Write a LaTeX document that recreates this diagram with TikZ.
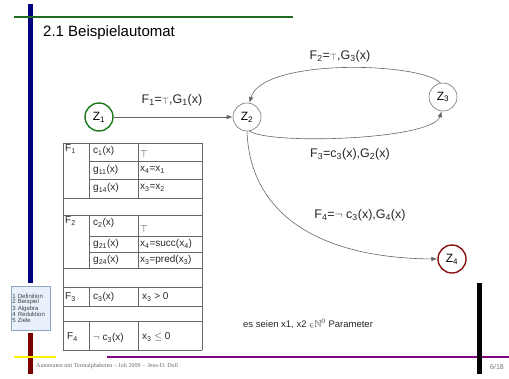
\documentclass[tikz,border=0pt]{standalone}
\usepackage{fontspec}
\setmainfont{Liberation Sans}
\newfontfamily\footserif{Liberation Serif}
\usepackage{amssymb}
\usetikzlibrary{arrows.meta, positioning}
\definecolor{barblue}{HTML}{000080}
\definecolor{bargreen}{HTML}{1F6B1F}
\definecolor{barred}{HTML}{7A0000}
\definecolor{barpurple}{HTML}{800080}
\definecolor{menufill}{HTML}{E8F1FB}
\definecolor{menuline}{HTML}{8FA6C0}
\definecolor{zgreen}{HTML}{1A7A1A}
\definecolor{zred}{HTML}{8B1010}
\newcommand{\su}[1]{\textsubscript{#1}}
\newcommand{\tru}{\raisebox{-1.5pt}{$\scriptstyle\top$}}
% table rules and cells
\newcommand{\thl}[3]{\draw[tab] (#1,#3) -- (#2,#3);}
\newcommand{\tvl}[3]{\draw[tab] (#1,#2) -- (#1,#3);}
\newcommand{\tcell}[4]{\node[cell] (#1) at (#2,#3) {#4};}

\begin{document}
\begin{tikzpicture}[x=1pt, y=-1pt,
  zstate/.style={circle, draw=black!55, line width=0.6pt, minimum size=28pt,
    inner sep=0pt, font=\fontsize{12}{12}\selectfont},
  edge/.style={draw=black!60, line width=0.6pt, -{Latex[length=6pt,width=4.5pt]}},
  elabel/.style={font=\fontsize{12.5}{12.5}\selectfont, text=black!85},
  tab/.style={draw=black!60, line width=0.6pt},
  cell/.style={anchor=west, inner sep=0pt, font=\fontsize{10}{10}\selectfont, text=black!85},
  plain/.style={anchor=west, inner sep=0pt},
  menu/.style={draw=menuline, fill=menufill, line width=0.5pt, minimum width=39pt,
    minimum height=44pt, text width=36pt, align=left, inner sep=1.5pt,
    font=\fontsize{6}{5.5}\selectfont, text=black!75}]
\useasboundingbox (0,0) rectangle (509,378);
% bars and rules
\fill[barblue] (28,4) rectangle (33,283);
\draw[bargreen, line width=2pt] (14,17) -- (293,17);
\fill[barred] (28,333) rectangle (33,374);
\draw[yellow, line width=2pt] (14,357) -- (56,357);
\draw[barpurple, line width=2pt] (107,357) -- (509,357);
\fill[black] (477,283) rectangle (482,374);
% title
\node[anchor=base west, inner sep=0pt, font=\fontsize{15}{15}\selectfont] (title) at (43,36) {2.1 Beispielautomat};
% states
\node[zstate, draw=zgreen, line width=1.4pt] (z1) at (99,117) {Z\su{1}};
\node[zstate] (z2) at (247,117) {Z\su{2}};
\node[zstate] (z3) at (443,97) {Z\su{3}};
\node[zstate, draw=zred, line width=1.4pt] (z4) at (452,259) {Z\su{4}};
% transitions
\draw[edge] (z1) -- (z2);
\draw[edge] (z3.100) .. controls (420,62) and (262,58) .. (z2.80);
\draw[edge] (z2.-80) .. controls (270,145) and (432,140) .. (z3.-95);
\draw[edge] (z2.-90) .. controls (250,215) and (320,258) .. (z4.west);
\node[elabel] (f1lab) at (172,100) {F\su{1}=\tru,G\su{1}(x)};
\node[elabel] (f2lab) at (340,56) {F\su{2}=\tru,G\su{3}(x)};
\node[elabel] (f3lab) at (350,154) {F\su{3}=c\su{3}(x),G\su{2}(x)};
\node[elabel] (f4lab) at (360,215) {F\su{4}=$\neg$ c\su{3}(x),G\su{4}(x)};
% table
\thl{63}{202}{143}
\thl{89}{202}{161}
\thl{89}{202}{179}
\thl{63}{202}{198}
\thl{63}{202}{215}
\thl{89}{202}{236}
\thl{89}{202}{252}
\thl{63}{202}{268}
\thl{63}{202}{287}
\thl{63}{202}{306}
\thl{63}{202}{321}
\thl{63}{202}{350}
\tvl{63}{143}{350}
\tvl{202}{143}{350}
\foreach \a/\b in {143/198, 215/268, 287/306, 321/350}{\tvl{89}{\a}{\b}\tvl{138}{\a}{\b}}
\tcell{f1}{65}{149}{F\su{1}}
\tcell{c1}{93}{151}{c\su{1}(x)}
\tcell{t1}{140}{154}{$\top$}
\tcell{g11}{93}{170}{g\su{11}(x)}
\tcell{a11}{140}{170}{x\su{4}=x\su{1}}
\tcell{g14}{93}{188}{g\su{14}(x)}
\tcell{a14}{140}{188}{x\su{3}=x\su{2}}
\tcell{f2}{65}{221}{F\su{2}}
\tcell{c2}{93}{223}{c\su{2}(x)}
\tcell{t2}{140}{229}{$\top$}
\tcell{g21}{93}{244}{g\su{21}(x)}
\tcell{a21}{140}{244}{x\su{4}=succ(x\su{4})}
\tcell{g24}{93}{260}{g\su{24}(x)}
\tcell{a24}{140}{260}{x\su{3}=pred(x\su{3})}
\tcell{f3}{65}{297}{F\su{3}}
\tcell{c3}{93}{297}{c\su{3}(x)}
\tcell{a3}{142}{297}{x\su{3} > 0}
\tcell{f4}{67}{337}{F\su{4}}
\tcell{c4}{93}{338}{$\neg$ c\su{3}(x)}
\tcell{a4}{142}{337}{x\su{3} $\leq$ 0}
% side menu
\node[menu] (menu) at (30.5,308) {1 Definition\\2 Beispiel\\3 Algebra\\4 Reduktion\\5 Ziele};
% footer
\node[plain, font=\footserif\fontsize{6}{6}\selectfont, text=black!60] (foot) at (36,366)
  {Automaten mit Termalphabeten – Juli 2009 \,-\, Jens-D. Doll};
\node[plain, font=\fontsize{7}{7}\selectfont, text=black!55] (page) at (490,367) {6/18};
\node[plain, font=\fontsize{9.5}{10}\selectfont, text=black!85] (params) at (243,324)
  {es seien x1, x2 {\scriptsize$\in$}$\mathbb{N}^{0}$ Parameter};
\end{tikzpicture}
\end{document}
